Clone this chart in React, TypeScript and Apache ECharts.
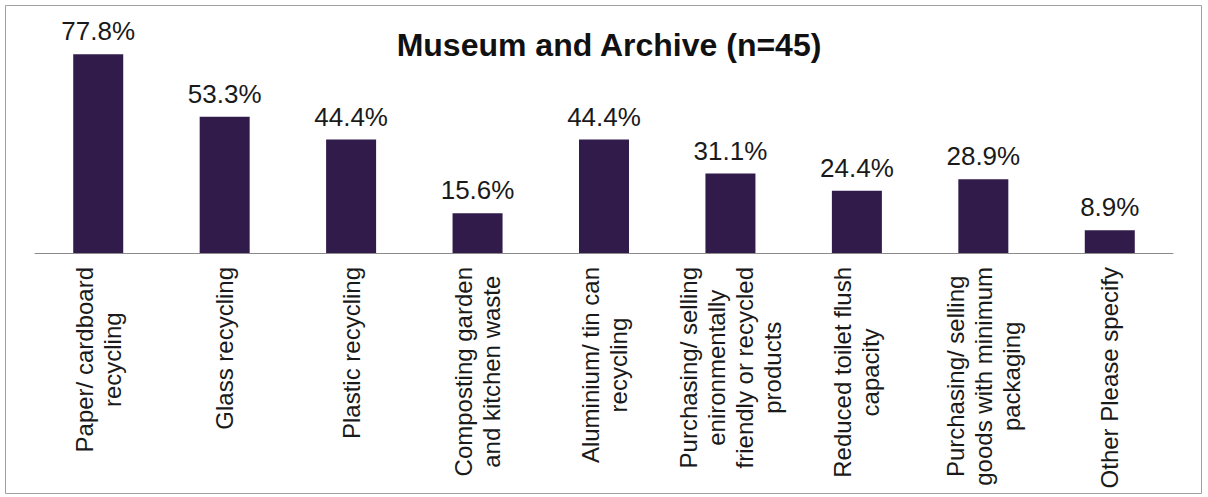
import React, { useEffect, useRef } from "react";
import * as echarts from "echarts";

const categories: string[] = [
  "Paper/ cardboard\nrecycling",
  "Glass recycling",
  "Plastic recycling",
  "Composting garden\nand kitchen waste",
  "Aluminium/ tin can\nrecycling",
  "Purchasing/ selling\nenironmentally\nfriendly or recycled\nproducts",
  "Reduced toilet flush\ncapacity",
  "Purchasing/ selling\ngoods with minimum\npackaging",
  "Other Please specify",
];

const values: number[] = [77.8, 53.3, 44.4, 15.6, 44.4, 31.1, 24.4, 28.9, 8.9];

const titleText = "Museum and Archive (n=45)";

export default function App() {
  const ref = useRef<HTMLDivElement>(null);

  useEffect(() => {
    if (!ref.current) return;
    const chart = echarts.init(ref.current, undefined, { renderer: "svg" });
    chart.setOption({
      animation: false,
      backgroundColor: "#ffffff",
      title: {
        text: titleText,
        left: 604,
        textAlign: "center",
        top: 24,
        textStyle: {
          fontFamily: "Liberation Sans, Arial, sans-serif",
          fontSize: 32,
          fontWeight: "bold",
          color: "#111111",
        },
      },
      graphic: [
        {
          type: "rect",
          shape: { x: 5.5, y: 5.5, width: 1196, height: 488 },
          style: { fill: "none", stroke: "#a0a0a0", lineWidth: 1 },
          silent: true,
        },
      ],
      grid: { left: 35, right: 35, top: 23, bottom: 244 },
      xAxis: {
        type: "category",
        data: categories,
        axisLine: { show: true, lineStyle: { color: "#8a8a8a", width: 1 } },
        axisTick: { show: false },
        axisLabel: {
          interval: 0,
          rotate: 90,
          margin: 14,
          formatter: (v: string) =>
            v
              .split("\n")
              .map((l) => "{c|" + l + "}")
              .join("\n"),
          rich: {
            c: {
              align: "center",
              fontFamily: "Liberation Sans, Arial, sans-serif",
              fontSize: 24,
              lineHeight: 28,
              color: "#1a1a1a",
            },
          },
        },
      },
      yAxis: {
        type: "value",
        min: 0,
        max: 90,
        show: false,
        splitLine: { show: false },
      },
      series: [
        {
          type: "bar",
          data: values,
          barWidth: 50,
          itemStyle: { color: "#301b4b" },
          label: {
            show: true,
            position: "top",
            distance: 10,
            formatter: (p: any) => p.value.toFixed(1) + "%",
            fontFamily: "Liberation Sans, Arial, sans-serif",
            fontSize: 26,
            color: "#1a1a1a",
          },
        },
      ],
    });
    return () => chart.dispose();
  }, []);

  return (
    <div
      ref={ref}
      style={{ position: "absolute", left: 0, top: 0, width: 1208, height: 497 }}
    />
  );
}
